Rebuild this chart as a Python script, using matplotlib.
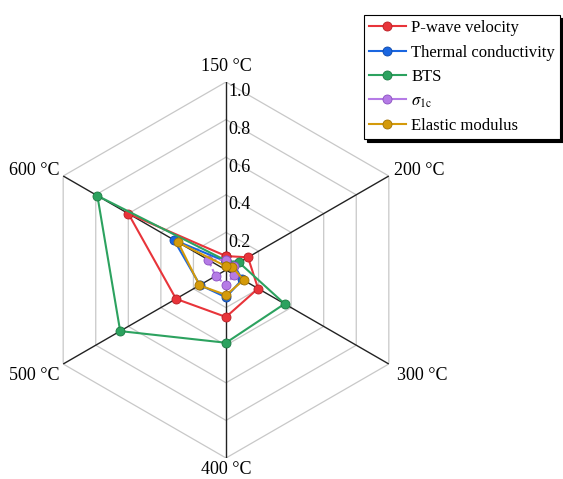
import numpy as np
import matplotlib
matplotlib.use("Agg")
import matplotlib.pyplot as plt
from matplotlib.lines import Line2D

plt.rcParams['font.family'] = ['Liberation Serif', 'DejaVu Serif']
plt.rcParams['mathtext.fontset'] = 'stix'

categories = ["150 °C", "200 °C", "300 °C", "400 °C", "500 °C", "600 °C"]
p_wave = [0.074, 0.135, 0.197, 0.25, 0.307, 0.60]
thermal = [0.045, 0.05, 0.10, 0.145, 0.16, 0.32]
bts = [0.05, 0.08, 0.36, 0.387, 0.65, 0.79]
sigma = [0.053, 0.047, 0.05, 0.08, 0.064, 0.11]
elastic = [0.02, 0.037, 0.108, 0.133, 0.163, 0.295]
series_names = ["P-wave velocity", "Thermal conductivity", "BTS", r"$\sigma_{\rm 1c}$", "Elastic modulus"]
series_values = [p_wave, thermal, bts, sigma, elastic]
colors = ["#E8343A", "#1A66E0", "#2CA25F", "#B57BE6", "#D49A0A"]
edge_colors = ["#B81E24", "#0D47A8", "#1B7A42", "#8A50C0", "#A07205"]
line_styles = ['-', '-', '-', (0, (3, 1.5)), '-']
rticks = [0.2, 0.4, 0.6, 0.8, 1.0]
rtick_labels = ["0.2", "0.4", "0.6", "0.8", "1.0"]

W, H = 563, 479
fig = plt.figure(figsize=(W / 100, H / 100), dpi=100)
cx, cy, R = 226, 270, 188
ax = fig.add_axes([(cx - R) / W, (H - cy - R) / H, 2 * R / W, 2 * R / H], projection='polar')
ax.set_theta_offset(np.pi / 2)
ax.set_theta_direction(-1)
ax.set_ylim(0, 1)
ax.grid(False)
ax.set_xticks([])
ax.set_yticks([])
ax.spines['polar'].set_visible(False)
ax.patch.set_visible(False)

n = len(categories)
angles = np.arange(n) * 2 * np.pi / n
closed = np.concatenate([angles, angles[:1]])

# hexagon grid
for r in rticks:
    ax.plot(closed, [r] * (n + 1), color="#C8C8C8", lw=0.9, zorder=1)
# spokes
for a in angles:
    ax.plot([a, a], [0, 1], color="#222222", lw=1.0, zorder=2)

# radial labels
for r, lab in zip(rticks, rtick_labels):
    ax.annotate(lab, xy=(0, r), xytext=(2, -1), textcoords='offset points',
                ha='left', va='top', fontsize=13, zorder=3)

# category labels
label_cfg = [
    ('center', 'bottom', (0, 5)),
    ('left', 'bottom', (4, -2)),
    ('left', 'top', (6, -2)),
    ('center', 'top', (0, -2)),
    ('right', 'top', (-3, -2)),
    ('right', 'bottom', (-3, -2)),
]
for a, lab, (ha, va, off) in zip(angles, categories, label_cfg):
    ax.annotate(lab, xy=(a, 1.0), xytext=off, textcoords='offset points',
                ha=ha, va=va, fontsize=13)

handles = []
for name, vals, c, ec, ls in zip(series_names, series_values, colors, edge_colors, line_styles):
    v = list(vals) + [vals[0]]
    ax.plot(closed, v, color=c, lw=1.5, ls=ls, marker='o', markersize=6.5,
            markerfacecolor=c, markeredgecolor=ec, markeredgewidth=0.6, zorder=5)
    handles.append(Line2D([], [], color=c, lw=1.5, marker='o', markersize=6.5,
                          markerfacecolor=c, markeredgecolor=ec,
                          markeredgewidth=0.6, label=name))

leg = fig.legend(handles=handles, loc='upper right', bbox_to_anchor=(0.995, 0.968),
                 fontsize=12, frameon=True, fancybox=False, edgecolor='black',
                 framealpha=1, shadow={'color': 'black', 'alpha': 1},
                 handlelength=2.2, handletextpad=0.35, labelspacing=0.5,
                 borderpad=0.3, borderaxespad=0.0)
leg.get_frame().set_linewidth(0.8)

fig.savefig("out.png", dpi=100)
